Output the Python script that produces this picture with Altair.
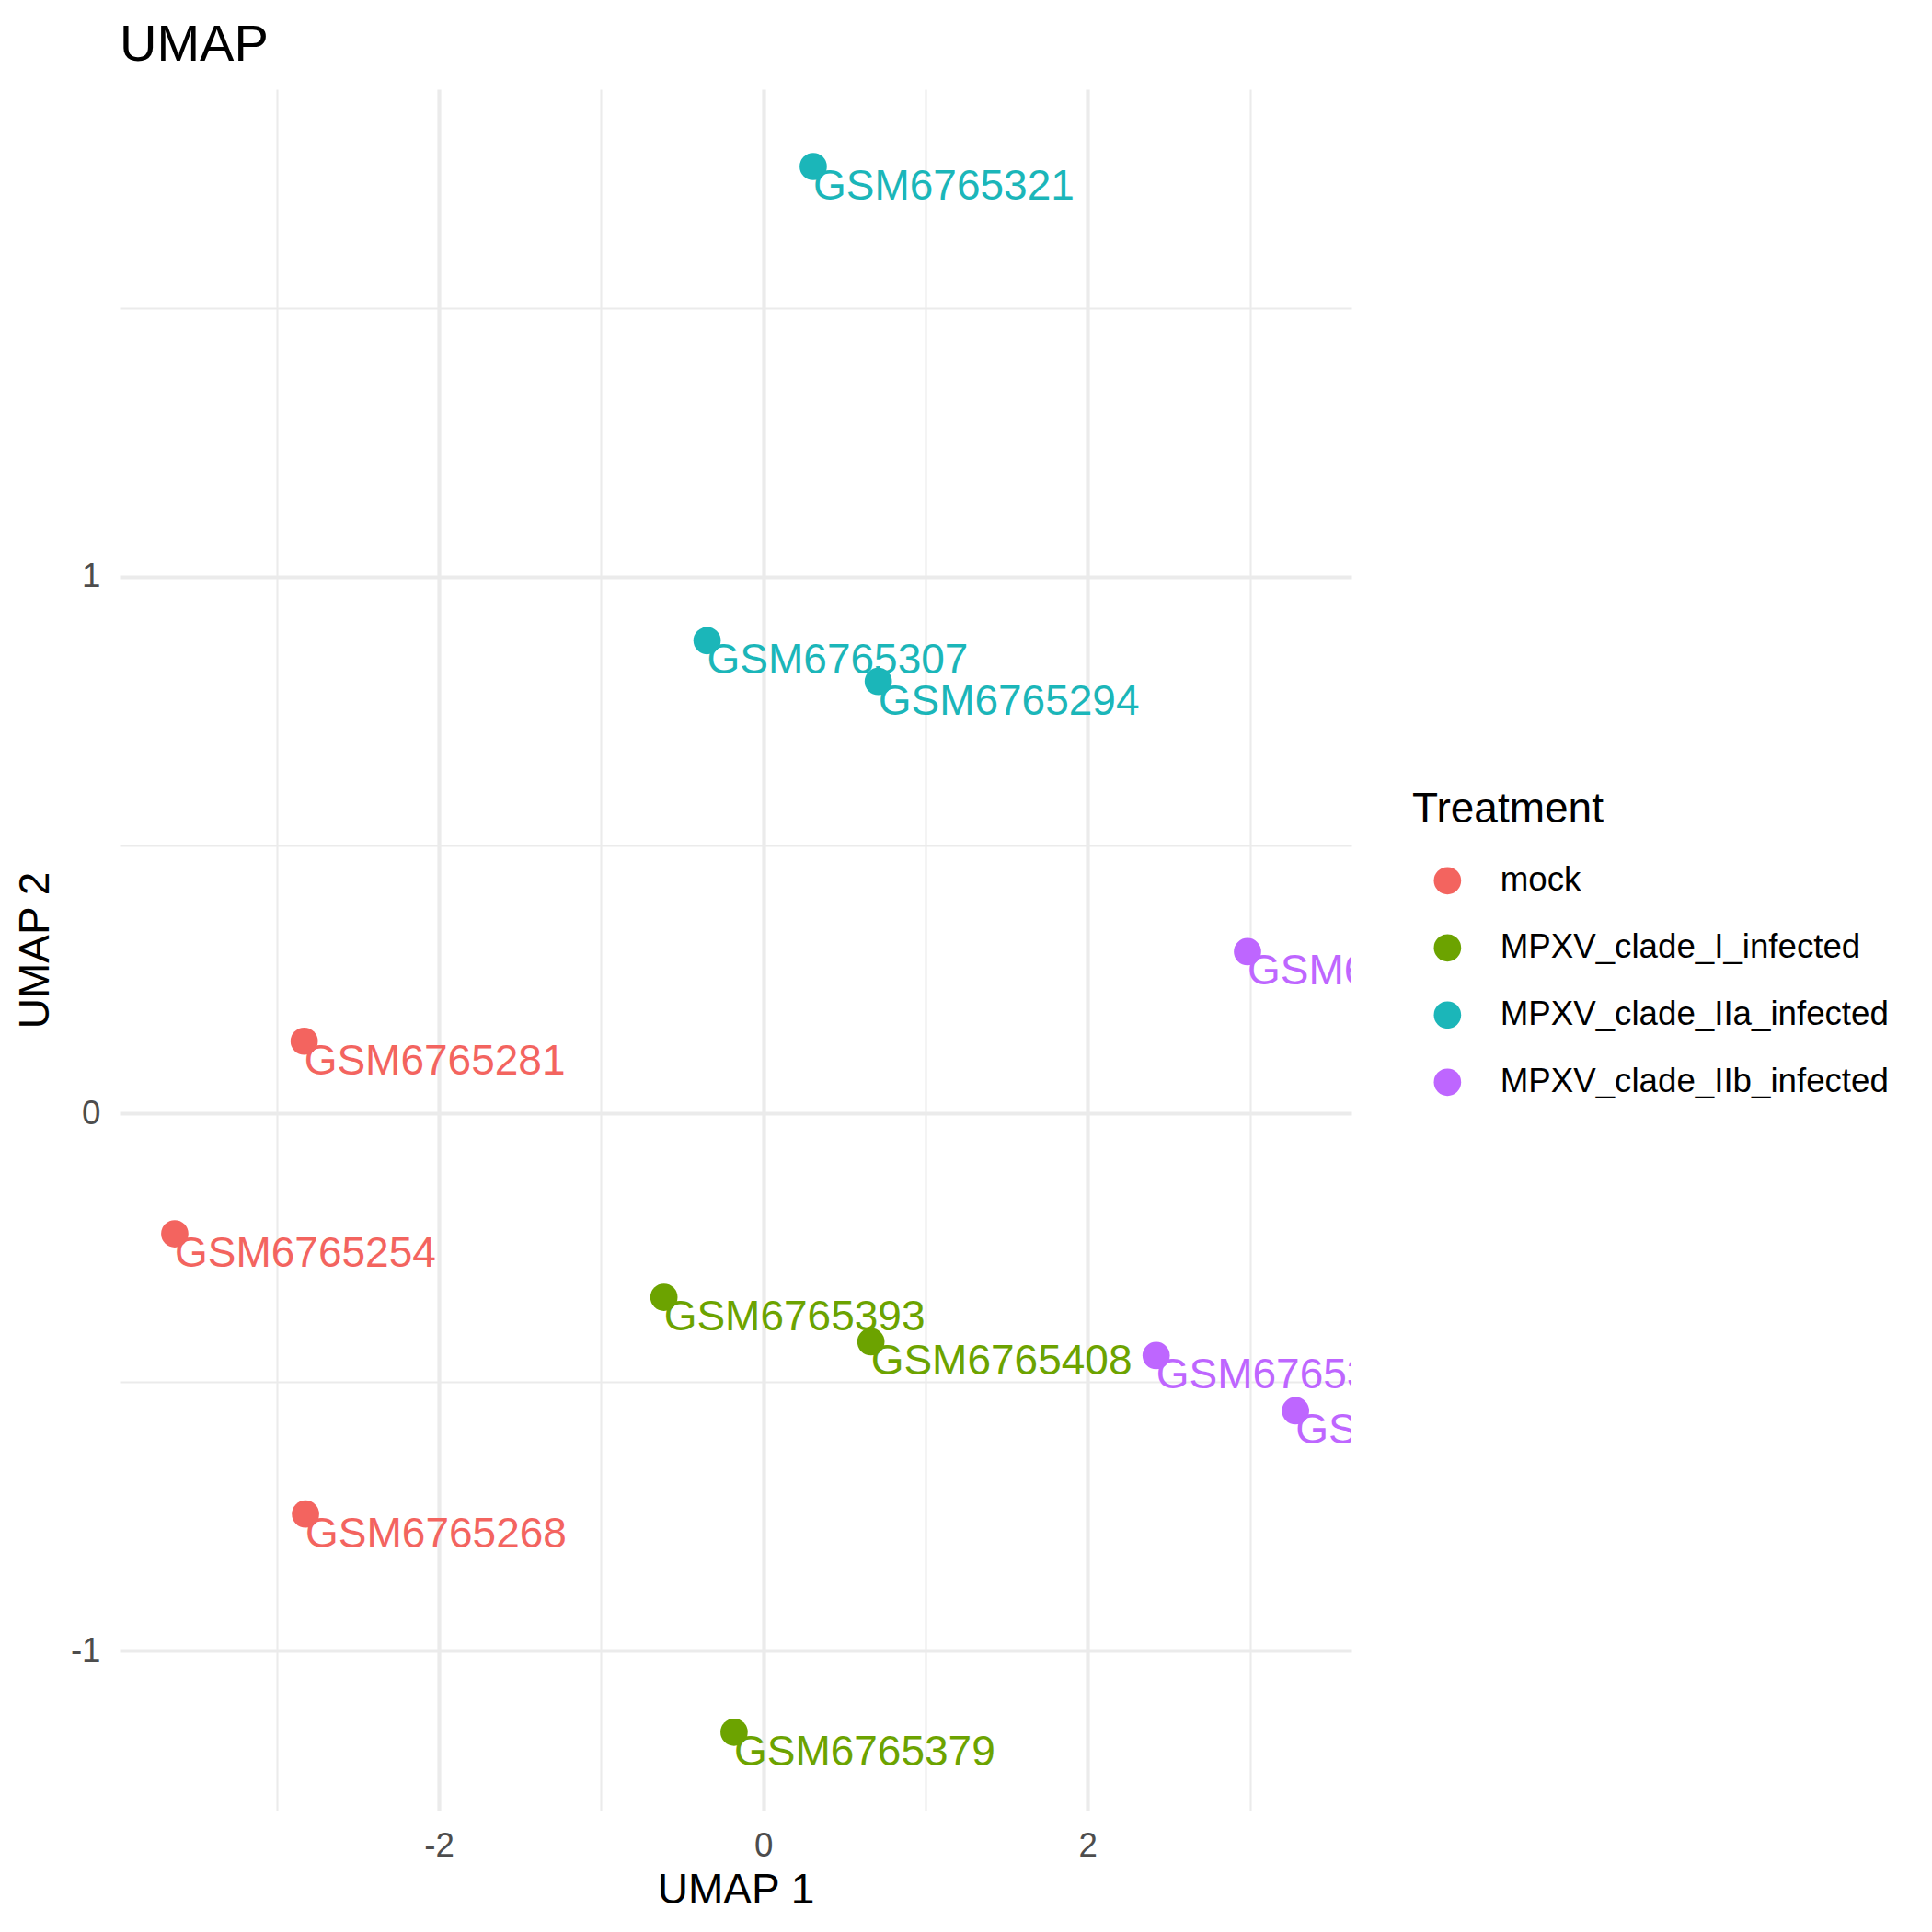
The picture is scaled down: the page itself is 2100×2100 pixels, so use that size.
import altair as alt
import pandas as pd

samples = ["GSM6765254", "GSM6765268", "GSM6765281",
           "GSM6765379", "GSM6765393", "GSM6765408",
           "GSM6765294", "GSM6765307", "GSM6765321",
           "GSM6765335", "GSM6765349", "GSM6765363"]
treatment = ["mock", "mock", "mock",
             "MPXV_clade_I_infected", "MPXV_clade_I_infected", "MPXV_clade_I_infected",
             "MPXV_clade_IIa_infected", "MPXV_clade_IIa_infected", "MPXV_clade_IIa_infected",
             "MPXV_clade_IIb_infected", "MPXV_clade_IIb_infected", "MPXV_clade_IIb_infected"]
umap1 = [-3.628, -2.822, -2.830,
         -0.180, -0.6125, 0.6635,
         0.709, -0.3465, 0.308,
         2.985, 2.422, 3.281]
umap2 = [-0.2238, -0.7457, 0.135,
         -1.152, -0.342, -0.4248,
         0.805, 0.881, 1.764,
         0.3017, -0.4505, -0.5533]

groups = ["mock", "MPXV_clade_I_infected", "MPXV_clade_IIa_infected", "MPXV_clade_IIb_infected"]
colors = ["#F3645F", "#6CA300", "#1BB6B9", "#BE66FF"]

x_ticks = [-3, -2, -1, 0, 1, 2, 3]
y_ticks = [-1, -0.5, 0, 0.5, 1, 1.5]

df = pd.DataFrame({"sample": samples, "Treatment": treatment, "umap1": umap1, "umap2": umap2})

FONT = "Liberation Sans"

color_scale = alt.Scale(domain=groups, range=colors)

x_enc = alt.X(
    "umap1:Q",
    title="UMAP 1",
    scale=alt.Scale(domain=[-3.968, 3.626], nice=False, zero=False),
    axis=alt.Axis(
        values=x_ticks,
        labelExpr="datum.value % 2 == 0 ? '' + datum.value : ''",
        gridWidth=alt.condition("datum.value % 2 == 0", alt.value(4.2), alt.value(2.1)),
        labelPadding=20,
        titlePadding=8,
    ),
)
y_enc = alt.Y(
    "umap2:Q",
    title="UMAP 2",
    scale=alt.Scale(domain=[-1.298, 1.908], nice=False, zero=False),
    axis=alt.Axis(
        values=y_ticks,
        labelExpr="datum.value % 1 == 0 ? '' + datum.value : ''",
        gridWidth=alt.condition("datum.value % 1 == 0", alt.value(4.2), alt.value(2.1)),
        labelPadding=21,
        titlePadding=14,
    ),
)

base = alt.Chart(df)

points = base.mark_circle(size=880, opacity=1).encode(
    x=x_enc,
    y=y_enc,
    color=alt.Color(
        "Treatment:N",
        scale=color_scale,
        sort=groups,
        legend=alt.Legend(
            orient="none",
            legendX=1405,
            legendY=761,
            title="Treatment",
            titleFont=FONT,
            titleFontSize=46,
            titleFontWeight="normal",
            titleColor="black",
            titlePadding=35,
            titleLimit=0,
            labelFont=FONT,
            labelFontSize=36.7,
            labelColor="black",
            labelLimit=0,
            symbolType="circle",
            symbolSize=880,
            symbolStrokeWidth=0,
            symbolOpacity=1,
            symbolOffset=20,
            labelOffset=39,
            rowPadding=35,
            padding=0,
        ),
    ),
)

labels = base.mark_text(
    align="left", baseline="top", fontSize=46, font=FONT, clip=True
).encode(
    x=x_enc,
    y=y_enc,
    text="sample:N",
    color=alt.Color("Treatment:N", scale=color_scale, sort=groups, legend=None),
)

chart = (
    alt.layer(points, labels)
    .properties(
        width=1339,
        height=1871,
        title=alt.TitleParams(
            "UMAP",
            anchor="start",
            frame="group",
            font=FONT,
            fontSize=56,
            fontWeight="normal",
            color="black",
            baseline="alphabetic",
            offset=22,
            dy=47,
        ),
        autosize=alt.AutoSizeParams(type="none"),
        padding={"left": 130, "top": 97, "right": 631, "bottom": 132},
        background="white",
    )
    .configure_view(strokeWidth=0)
    .configure_axis(
        domain=False,
        ticks=False,
        tickSize=0,
        gridColor="#EBEBEB",
        labelFont=FONT,
        labelFontSize=36.7,
        labelColor="#4D4D4D",
        titleFont=FONT,
        titleFontSize=46,
        titleFontWeight="normal",
        titleColor="black",
    )
)

chart.save("out.html", embed_options={"renderer": "svg", "actions": False})
